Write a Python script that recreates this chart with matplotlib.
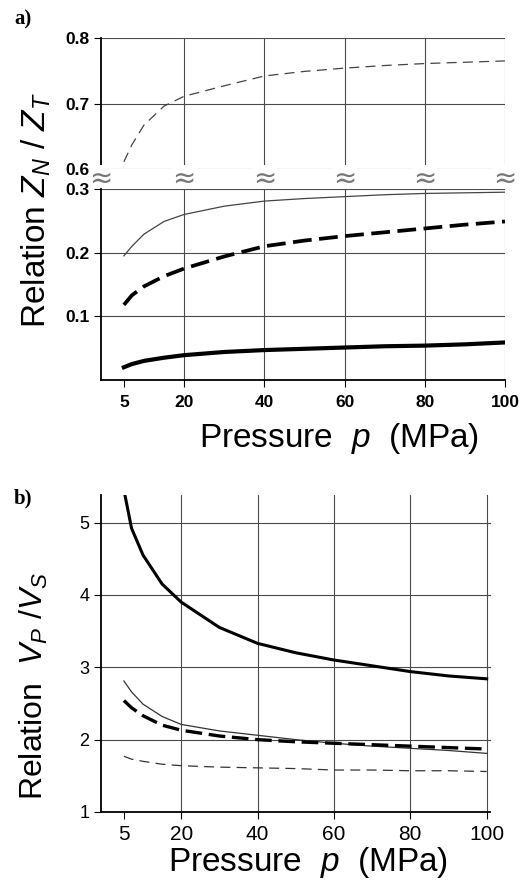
import matplotlib
matplotlib.use("Agg")
import matplotlib.pyplot as plt

plt.rcParams['font.family'] = ['Liberation Sans', 'DejaVu Sans']
plt.rcParams['mathtext.fontset'] = 'custom'
plt.rcParams['mathtext.rm'] = 'Liberation Sans'
plt.rcParams['mathtext.it'] = 'Liberation Sans:italic'

# ---------------- data ----------------
pressure = [5, 7, 10, 15, 20, 30, 40, 50, 60, 70, 80, 90, 100]

# panel a: relation Z_N / Z_T
a_thin_dashed = [0.611, 0.637, 0.667, 0.696, 0.711, 0.727, 0.742, 0.749, 0.754, 0.758, 0.761, 0.763, 0.765]
a_thin_solid = [0.195, 0.210, 0.229, 0.249, 0.260, 0.273, 0.281, 0.285, 0.288, 0.291, 0.293, 0.294, 0.295]
a_thick_dashed = [0.118, 0.133, 0.147, 0.163, 0.175, 0.194, 0.210, 0.219, 0.226, 0.232, 0.238, 0.244, 0.249]
a_thick_solid = [0.020, 0.025, 0.030, 0.035, 0.039, 0.044, 0.047, 0.049, 0.051, 0.053, 0.054, 0.056, 0.059]

# panel b: relation V_P / V_S
b_thick_solid = [5.45, 4.92, 4.55, 4.15, 3.90, 3.55, 3.33, 3.20, 3.10, 3.02, 2.94, 2.88, 2.84]
b_thin_solid = [2.81, 2.66, 2.49, 2.32, 2.21, 2.12, 2.06, 2.00, 1.95, 1.91, 1.88, 1.85, 1.81]
b_thick_dashed = [2.54, 2.44, 2.33, 2.20, 2.13, 2.05, 2.00, 1.97, 1.95, 1.93, 1.91, 1.89, 1.87]
b_thin_dashed = [1.77, 1.73, 1.70, 1.66, 1.64, 1.62, 1.61, 1.60, 1.58, 1.58, 1.57, 1.57, 1.56]

x_ticks = [5, 20, 40, 60, 80, 100]
x_grid = [20, 40, 60, 80, 100]
a_upper_ticks = [0.6, 0.7, 0.8]
a_lower_ticks = [0.1, 0.2, 0.3]
b_ticks = [1, 2, 3, 4, 5]

# ---------------- figure ----------------
W, H = 527, 885
fig = plt.figure(figsize=(W / 100, H / 100), dpi=100)


def rect(x0, y0, x1, y1):
    return [x0 / W, 1 - y1 / H, (x1 - x0) / W, (y1 - y0) / H]


GRID = dict(color='#4a4a4a', lw=0.8, zorder=1)


def style(ax, bold, fs):
    for s in ['top', 'right']:
        ax.spines[s].set_visible(False)
    ax.spines['left'].set_linewidth(1.3)
    ax.spines['bottom'].set_linewidth(1.3)
    ax.tick_params(direction='out', length=5, width=0.8, labelsize=fs)
    for lab in ax.get_yticklabels() + ax.get_xticklabels():
        lab.set_fontweight('bold' if bold else 'normal')


# panel a upper
axu = fig.add_axes(rect(101, 38, 505, 169))
axu.set_xlim(-0.7, 100)
axu.set_ylim(0.6, 0.8)
axu.set_yticks(a_upper_ticks)
axu.set_yticklabels(['0.6', '0.7', '0.8'])
axu.set_xticks([])
for yv in a_upper_ticks:
    axu.axhline(yv, **GRID)
for xv in x_grid:
    axu.axvline(xv, **GRID)
axu.plot(pressure, a_thin_dashed, color='#444444', lw=0.9, dashes=(8, 5), zorder=3)
style(axu, True, 12.5)
axu.spines['bottom'].set_visible(False)

# gap axes (axis break)
axg = fig.add_axes(rect(101, 169, 505, 189))
axg.set_xlim(-0.7, 100)
axg.set_ylim(0, 1)
axg.set_xticks([])
axg.set_yticks([])
for s in ['top', 'right', 'bottom']:
    axg.spines[s].set_visible(False)
axg.spines['left'].set_linewidth(1.3)
axg.patch.set_alpha(0)
for xv in x_grid:
    axg.axvline(xv, **GRID)
for xv in [-0.7] + x_grid:
    axg.text(xv, 0.5, '≈', ha='center', va='center', fontsize=20, color='#777777',
             family='DejaVu Sans', zorder=5, clip_on=False,
             bbox=dict(facecolor='white', edgecolor='none', pad=0.0))

# panel a lower
axl = fig.add_axes(rect(101, 189, 505, 380))
axl.set_xlim(-0.7, 100)
axl.set_ylim(0, 0.3)
axl.set_yticks(a_lower_ticks)
axl.set_yticklabels(['0.1', '0.2', '0.3'])
axl.set_xticks(x_ticks)
axl.set_xticklabels([str(v) for v in x_ticks])
for yv in a_lower_ticks:
    axl.axhline(yv, **GRID)
for xv in x_grid:
    axl.axvline(xv, **GRID)
axl.plot(pressure, a_thin_solid, color='#444444', lw=0.9, zorder=3)
axl.plot(pressure, a_thick_dashed, color='black', lw=2.7, dashes=(5, 2), zorder=3)
axl.plot(pressure, a_thick_solid, color='black', lw=3.0, zorder=3)
style(axl, True, 12.5)
axl.tick_params(axis='x', pad=6)

fig.text(339 / W, 1 - 438 / H, r'Pressure  $\mathit{p}$  (MPa)', fontsize=24,
         ha='center', va='center')
fig.text(36 / W, 1 - 210 / H, r'Relation $\mathit{Z_N}$ / $\mathit{Z_T}$', fontsize=24,
         rotation=90, ha='center', va='center')
fig.text(14 / W, 1 - 19 / H, 'a)', fontsize=15, fontweight='bold',
         family='Liberation Serif', ha='left', va='center')

# panel b
axb = fig.add_axes(rect(101, 495, 490.5, 812))
axb.set_xlim(-1, 101)
axb.set_ylim(1, 5.38)
axb.set_yticks(b_ticks)
axb.set_yticklabels([str(v) for v in b_ticks])
axb.set_xticks(x_ticks)
axb.set_xticklabels([str(v) for v in x_ticks])
for yv in b_ticks[1:]:
    axb.axhline(yv, **GRID)
for xv in x_grid:
    axb.axvline(xv, **GRID)
axb.plot(pressure, b_thick_solid, color='black', lw=2.2, zorder=3)
axb.plot(pressure, b_thin_solid, color='#333333', lw=0.9, zorder=3)
axb.plot(pressure, b_thick_dashed, color='black', lw=2.4, dashes=(5, 2), zorder=3)
axb.plot(pressure, b_thin_dashed, color='#333333', lw=0.9, dashes=(8, 5), zorder=3)
style(axb, False, 13)
axb.tick_params(axis='x', labelsize=15, pad=4)

fig.text(308 / W, 1 - 862 / H, r'Pressure  $\mathit{p}$  (MPa)', fontsize=24,
         ha='center', va='center')
fig.text(34 / W, 1 - 686 / H, r'Relation  $V_{\mathit{P}}$ /$V_S$', fontsize=23,
         rotation=90, ha='center', va='center')
fig.text(14 / W, 1 - 498 / H, 'b)', fontsize=15, fontweight='bold',
         family='Liberation Serif', ha='left', va='center')

fig.savefig('out.png', dpi=100)
